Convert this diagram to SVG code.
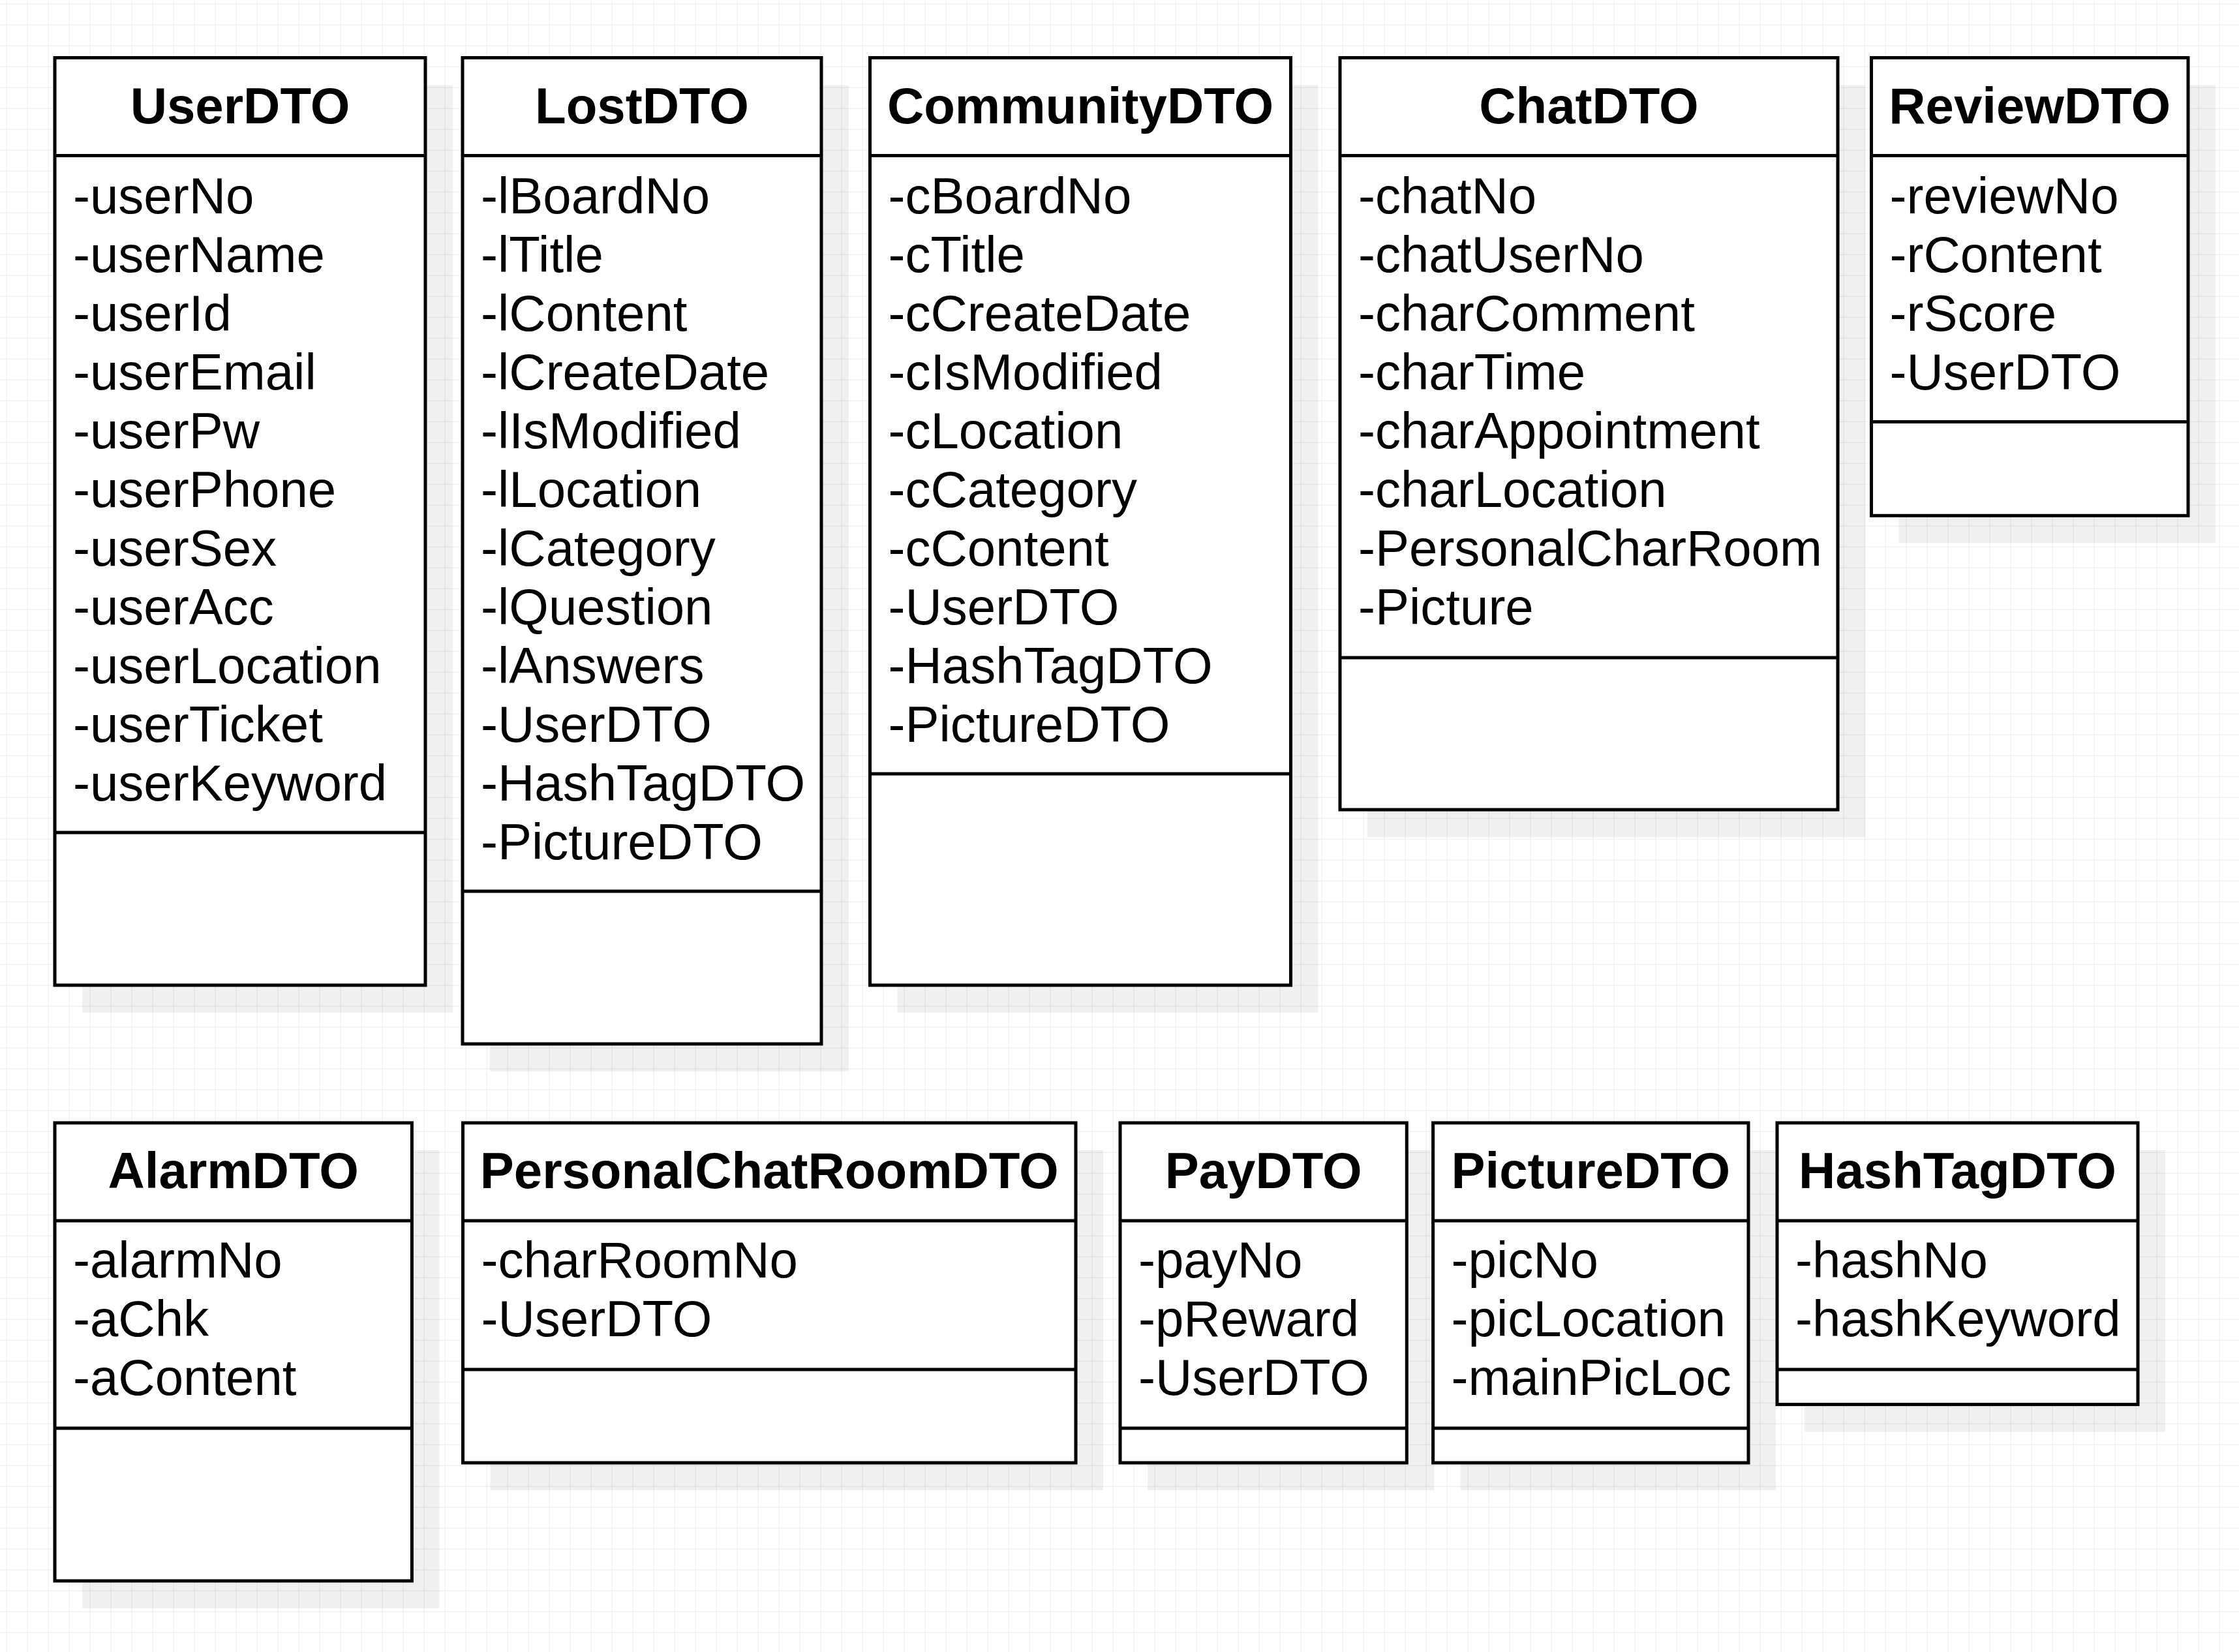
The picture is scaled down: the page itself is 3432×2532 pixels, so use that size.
<svg xmlns="http://www.w3.org/2000/svg" width="3432" height="2532" viewBox="0 0 3432 2532">
<defs>
<pattern id="grid" x="9.7" y="5.8" width="32" height="32" patternUnits="userSpaceOnUse">
<path d="M0.5 0 V32 M0 0.5 H32" fill="none" stroke="#ebebeb" stroke-width="1"/>
</pattern>
</defs>
<style>
.shadow{fill:#000;fill-opacity:0.06;stroke:none}
.box{fill:#fff;stroke:#000;stroke-width:5}
.sep{stroke:#000;stroke-width:5;fill:none}
.title{font-family:"Liberation Sans",Arial,sans-serif;font-size:78px;font-weight:bold;fill:#000;text-anchor:middle}
.attr{font-family:"Liberation Sans",Arial,sans-serif;font-size:78px;fill:#000}
</style>
<rect width="3432" height="2532" fill="#fff"/>
<rect width="3432" height="2532" fill="url(#grid)"/>

<g id="connectors"></g>

<g id="UserDTO">
<rect class="shadow" x="126" y="130.5" width="568" height="1421.5"/>
<rect class="box" x="84" y="88.5" width="568" height="1421.5"/>
<line class="sep" x1="84" y1="238.5" x2="652" y2="238.5"/>
<line class="sep" x1="84" y1="1276" x2="652" y2="1276"/>
<text class="title" x="368" y="189">UserDTO</text>
<text class="attr"><tspan x="112" y="326.5">-userNo</tspan><tspan x="112" y="416.5">-userName</tspan><tspan x="112" y="506.5">-userId</tspan><tspan x="112" y="596.5">-userEmail</tspan><tspan x="112" y="686.5">-userPw</tspan><tspan x="112" y="776.5">-userPhone</tspan><tspan x="112" y="866.5">-userSex</tspan><tspan x="112" y="956.5">-userAcc</tspan><tspan x="112" y="1046.5">-userLocation</tspan><tspan x="112" y="1136.5">-userTicket</tspan><tspan x="112" y="1226.5">-userKeyword</tspan></text>
</g>

<g id="LostDTO">
<rect class="shadow" x="751" y="130.5" width="550" height="1511.5"/>
<rect class="box" x="709" y="88.5" width="550" height="1511.5"/>
<line class="sep" x1="709" y1="238.5" x2="1259" y2="238.5"/>
<line class="sep" x1="709" y1="1366" x2="1259" y2="1366"/>
<text class="title" x="984" y="189">LostDTO</text>
<text class="attr"><tspan x="737" y="326.5">-lBoardNo</tspan><tspan x="737" y="416.5">-lTitle</tspan><tspan x="737" y="506.5">-lContent</tspan><tspan x="737" y="596.5">-lCreateDate</tspan><tspan x="737" y="686.5">-lIsModified</tspan><tspan x="737" y="776.5">-lLocation</tspan><tspan x="737" y="866.5">-lCategory</tspan><tspan x="737" y="956.5">-lQuestion</tspan><tspan x="737" y="1046.5">-lAnswers</tspan><tspan x="737" y="1136.5">-UserDTO</tspan><tspan x="737" y="1226.5">-HashTagDTO</tspan><tspan x="737" y="1316.5">-PictureDTO</tspan></text>
</g>

<g id="CommunityDTO">
<rect class="shadow" x="1375.5" y="130.5" width="645" height="1421.5"/>
<rect class="box" x="1333.5" y="88.5" width="645" height="1421.5"/>
<line class="sep" x1="1333.5" y1="238.5" x2="1978.5" y2="238.5"/>
<line class="sep" x1="1333.5" y1="1186" x2="1978.5" y2="1186"/>
<text class="title" x="1656" y="189">CommunityDTO</text>
<text class="attr"><tspan x="1361.5" y="326.5">-cBoardNo</tspan><tspan x="1361.5" y="416.5">-cTitle</tspan><tspan x="1361.5" y="506.5">-cCreateDate</tspan><tspan x="1361.5" y="596.5">-cIsModified</tspan><tspan x="1361.5" y="686.5">-cLocation</tspan><tspan x="1361.5" y="776.5">-cCategory</tspan><tspan x="1361.5" y="866.5">-cContent</tspan><tspan x="1361.5" y="956.5">-UserDTO</tspan><tspan x="1361.5" y="1046.5">-HashTagDTO</tspan><tspan x="1361.5" y="1136.5">-PictureDTO</tspan></text>
</g>

<g id="ChatDTO">
<rect class="shadow" x="2096" y="130.5" width="763" height="1152.5"/>
<rect class="box" x="2054" y="88.5" width="763" height="1152.5"/>
<line class="sep" x1="2054" y1="238.5" x2="2817" y2="238.5"/>
<line class="sep" x1="2054" y1="1008" x2="2817" y2="1008"/>
<text class="title" x="2435.5" y="189">ChatDTO</text>
<text class="attr"><tspan x="2082" y="326.5">-chatNo</tspan><tspan x="2082" y="416.5">-chatUserNo</tspan><tspan x="2082" y="506.5">-charComment</tspan><tspan x="2082" y="596.5">-charTime</tspan><tspan x="2082" y="686.5">-charAppointment</tspan><tspan x="2082" y="776.5">-charLocation</tspan><tspan x="2082" y="866.5">-PersonalCharRoom</tspan><tspan x="2082" y="956.5">-Picture</tspan></text>
</g>

<g id="ReviewDTO">
<rect class="shadow" x="2910.5" y="130.5" width="485.5" height="701.8"/>
<rect class="box" x="2868.5" y="88.5" width="485.5" height="701.8"/>
<line class="sep" x1="2868.5" y1="238.5" x2="3354" y2="238.5"/>
<line class="sep" x1="2868.5" y1="646.5" x2="3354" y2="646.5"/>
<text class="title" x="3111.25" y="189">ReviewDTO</text>
<text class="attr"><tspan x="2896.5" y="326.5">-reviewNo</tspan><tspan x="2896.5" y="416.5">-rContent</tspan><tspan x="2896.5" y="506.5">-rScore</tspan><tspan x="2896.5" y="596.5">-UserDTO</tspan></text>
</g>

<g id="AlarmDTO">
<rect class="shadow" x="126" y="1763" width="547.4" height="702"/>
<rect class="box" x="84" y="1721" width="547.4" height="702"/>
<line class="sep" x1="84" y1="1871" x2="631.4" y2="1871"/>
<line class="sep" x1="84" y1="2189" x2="631.4" y2="2189"/>
<text class="title" x="357.7" y="1821">AlarmDTO</text>
<text class="attr"><tspan x="112" y="1958">-alarmNo</tspan><tspan x="112" y="2048">-aChk</tspan><tspan x="112" y="2138">-aContent</tspan></text>
</g>

<g id="PersonalChatRoomDTO">
<rect class="shadow" x="751.5" y="1763" width="939.5" height="521"/>
<rect class="box" x="709.5" y="1721" width="939.5" height="521"/>
<line class="sep" x1="709.5" y1="1871" x2="1649" y2="1871"/>
<line class="sep" x1="709.5" y1="2099" x2="1649" y2="2099"/>
<text class="title" x="1179.25" y="1821">PersonalChatRoomDTO</text>
<text class="attr"><tspan x="737.5" y="1958">-charRoomNo</tspan><tspan x="737.5" y="2048">-UserDTO</tspan></text>
</g>

<g id="PayDTO">
<rect class="shadow" x="1759" y="1763" width="439.3" height="521"/>
<rect class="box" x="1717" y="1721" width="439.3" height="521"/>
<line class="sep" x1="1717" y1="1871" x2="2156.3" y2="1871"/>
<line class="sep" x1="1717" y1="2189" x2="2156.3" y2="2189"/>
<text class="title" x="1936.65" y="1821">PayDTO</text>
<text class="attr"><tspan x="1745" y="1958">-payNo</tspan><tspan x="1745" y="2048">-pReward</tspan><tspan x="1745" y="2138">-UserDTO</tspan></text>
</g>

<g id="PictureDTO">
<rect class="shadow" x="2238.6" y="1763" width="483.4" height="521"/>
<rect class="box" x="2196.6" y="1721" width="483.4" height="521"/>
<line class="sep" x1="2196.6" y1="1871" x2="2680" y2="1871"/>
<line class="sep" x1="2196.6" y1="2189" x2="2680" y2="2189"/>
<text class="title" x="2438.3" y="1821">PictureDTO</text>
<text class="attr"><tspan x="2224.6" y="1958">-picNo</tspan><tspan x="2224.6" y="2048">-picLocation</tspan><tspan x="2224.6" y="2138">-mainPicLoc</tspan></text>
</g>

<g id="HashTagDTO">
<rect class="shadow" x="2766" y="1763" width="553" height="431.6"/>
<rect class="box" x="2724" y="1721" width="553" height="431.6"/>
<line class="sep" x1="2724" y1="1871" x2="3277" y2="1871"/>
<line class="sep" x1="2724" y1="2099" x2="3277" y2="2099"/>
<text class="title" x="3000.5" y="1821">HashTagDTO</text>
<text class="attr"><tspan x="2752" y="1958">-hashNo</tspan><tspan x="2752" y="2048">-hashKeyword</tspan></text>
</g>
</svg>
